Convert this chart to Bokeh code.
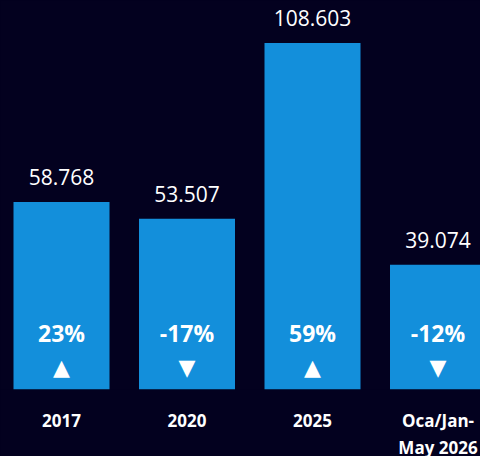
from bokeh.plotting import figure
from bokeh.models import ColumnDataSource, Range1d, FixedTicker
from bokeh.core.properties import value
from bokeh.embed import file_html
from bokeh.resources import INLINE

categories = ["2017", "2020", "2025", "Oca/Jan-\nMay 2026"]
values = [58.768, 53.507, 108.603, 39.074]
value_labels = ["58.768", "53.507", "108.603", "39.074"]
changes = ["23%", "-17%", "59%", "-12%"]

BG = "#03011f"
BAR = "#138fdb"
FONT = "Open Sans"

idx = list(range(len(categories)))
arrows = ["\u25BC" if c.startswith("-") else "\u25B2" for c in changes]

src = ColumnDataSource(dict(x=idx, top=values, vlab=value_labels,
                            chg=changes, arr=arrows, zero=[0] * len(idx)))

p = figure(frame_width=480, frame_height=389,
           x_range=Range1d(-0.4861, 3.3386), y_range=Range1d(0, 121.9),
           output_backend="svg", toolbar_location=None,
           y_axis_location=None,
           min_border_left=0, min_border_right=0, min_border_top=0,
           min_border_bottom=67)
p.styles = {"background-color": BG}
p.background_fill_color = BG
p.border_fill_color = BG
p.outline_line_color = None
p.grid.visible = False

p.vbar(x="x", top="top", width=0.765, source=src, fill_color=BAR, line_color=None)

p.text(x="x", y="top", text="vlab", source=src, text_color="white",
       text_font=value(FONT), text_font_size="21px", text_align="center",
       text_baseline="middle", y_offset=-25)
p.text(x="x", y="zero", text="chg", source=src, text_color="white",
       text_font=value(FONT), text_font_size="23px", text_font_style="bold",
       text_align="center", text_baseline="middle", y_offset=-57)
p.text(x="x", y="zero", text="arr", source=src, text_color="white",
       text_font=value("DejaVu Sans"), text_font_size="22px",
       text_align="center", text_baseline="middle", y_offset=-22)

ax = p.xaxis[0]
ax.ticker = FixedTicker(ticks=idx)
ax.major_label_overrides = {i: c for i, c in zip(idx, categories)}
ax.axis_line_color = None
ax.major_tick_line_color = None
ax.minor_tick_line_color = None
ax.major_label_text_color = "white"
ax.major_label_text_font = FONT
ax.major_label_text_font_size = "17px"
ax.major_label_text_font_style = "bold"
ax.major_label_standoff = 13

open("out.html", "w").write(file_html(p, INLINE))
